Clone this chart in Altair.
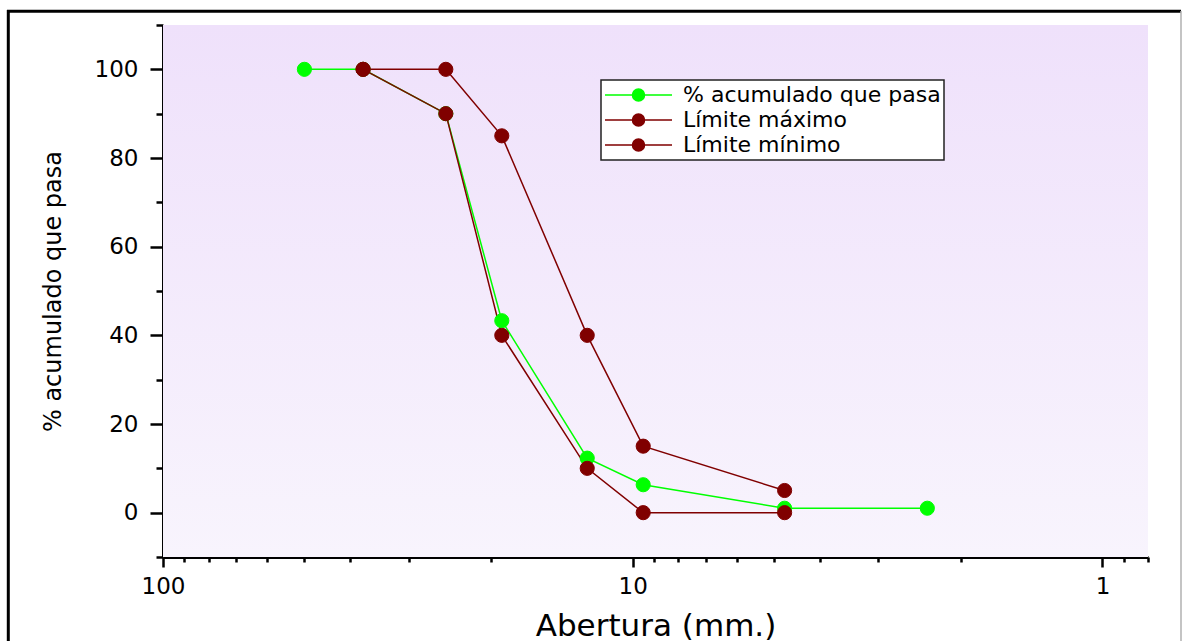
import altair as alt
import pandas as pd

# ---------------- data ----------------
sieve_sizes = [50, 37.5, 25, 19, 12.5, 9.5, 4.75, 2.36]
pct_pass = [100, 100, 90, 43.3, 12.3, 6.3, 1.0, 1.0]
limit_sizes = [37.5, 25, 19, 12.5, 9.5, 4.75]
limit_max = [100, 100, 85, 40, 15, 5]
limit_min = [100, 90, 40, 10, 0, 0]
series_names = ["% acumulado que pasa", "Límite máximo", "Límite mínimo"]
series_colors = ["#00ff00", "#800000", "#800000"]

x_ticks = [100, 90, 80, 70, 60, 50, 40, 30, 20, 10, 9, 8, 7, 6, 5, 4, 3, 2, 1, 0.9, 0.8]
x_major = [100, 10, 1]
y_ticks = [-10, 0, 10, 20, 30, 40, 50, 60, 70, 80, 90, 100, 110]
y_major = [0, 20, 40, 60, 80, 100]

rows = []
for name, xs, ys in zip(series_names,
                        [sieve_sizes, limit_sizes, limit_sizes],
                        [pct_pass, limit_max, limit_min]):
    for i, (a, b) in enumerate(zip(xs, ys)):
        rows.append({"serie": name, "abertura": a, "pasa": b, "orden": i})
df = pd.DataFrame(rows)

W, H = 985, 532
PAD_L, PAD_T, PAD_R, PAD_B = 163, 25, 34, 84
FONT = "DejaVu Sans"

x_major_test = f"indexof({x_major}, datum.value) >= 0"
y_major_test = f"indexof({y_major}, datum.value) >= 0"

x_axis = alt.Axis(
    values=x_ticks,
    labelExpr=f"{x_major_test} ? format(datum.value, '~g') : ''",
    tickSize={"condition": {"test": x_major_test, "value": 10}, "value": 5},
    labelPadding=8,
    labelFlush=False,
    labelOverlap=False,
    labelBound=False,
    grid=False,
    titleX=W / 2,
    titleY=78,
    titleAlign="center",
    titleBaseline="alphabetic",
    titleFontSize=31,
)
y_axis = alt.Axis(
    values=y_ticks,
    labelExpr=f"{y_major_test} ? datum.label : ''",
    tickSize={"condition": {"test": y_major_test, "value": 13}, "value": 7},
    labelPadding=12,
    labelFlush=False,
    labelOverlap=False,
    grid=False,
    titleX=-103,
    titleY=H / 2,
    titleAngle=270,
    titleAlign="center",
    titleBaseline="alphabetic",
    titleFontSize=24,
)

x_enc = alt.X("abertura:Q",
              scale=alt.Scale(type="log", domain=[0.8, 100], reverse=True, nice=False),
              axis=x_axis, title="Abertura (mm.)")
y_enc = alt.Y("pasa:Q",
              scale=alt.Scale(domain=[-10, 110], nice=False, zero=False),
              axis=y_axis, title="% acumulado que pasa")

sym_path = ("M-1,0H1M-0.18,0A0.18,0.18,0,1,0,0.18,0"
            "A0.18,0.18,0,1,0,-0.18,0Z")
legend = alt.Legend(
    title=None, orient="none", legendX=438, legendY=55,
    symbolType=sym_path, symbolSize=4489, symbolStrokeWidth=1.5,
    labelFont=FONT, labelFontSize=22, labelOffset=10, labelColor="black",
    labelLimit=500, padding=3, rowPadding=1, clipHeight=24,
    strokeColor="#222222", fillColor="white",
)
color_scale = alt.Scale(domain=series_names, range=series_colors)

# background gradient of the plot area
bg = alt.Chart(alt.Data(values=[{}])).mark_rect(
    fill=alt.Gradient(
        gradient="linear",
        stops=[alt.GradientStop(color="#efe1fb", offset=0),
               alt.GradientStop(color="#f8f4fd", offset=1)],
        x1=0, x2=0, y1=0, y2=1),
).encode(x=alt.value(0), x2=alt.value(W), y=alt.value(0), y2=alt.value(H))

# outer frame of the figure
frame_top = alt.Chart(alt.Data(values=[{}])).mark_rule(color="black", strokeWidth=3).encode(
    x=alt.value(7 - PAD_L), x2=alt.value(1181 - PAD_L), y=alt.value(11.3 - PAD_T))
frame_left = alt.Chart(alt.Data(values=[{}])).mark_rule(color="black", strokeWidth=3).encode(
    x=alt.value(8.3 - PAD_L), y=alt.value(10 - PAD_T), y2=alt.value(H + PAD_B + 5))
frame_right = alt.Chart(alt.Data(values=[{}])).mark_rule(color="#b0b0b0", strokeWidth=1.5).encode(
    x=alt.value(1181 - PAD_L), y=alt.value(11 - PAD_T), y2=alt.value(H + PAD_B + 5))

lines = alt.Chart(df).mark_line(strokeWidth=1.5).encode(
    x=x_enc, y=y_enc,
    stroke=alt.Stroke("serie:N", scale=color_scale, legend=legend),
    order="orden:Q",
)
points = alt.Chart(df).mark_circle(size=200, opacity=1, strokeWidth=1).encode(
    x=x_enc, y=y_enc,
    fill=alt.Fill("serie:N", scale=color_scale, legend=legend),
    stroke=alt.Stroke("serie:N", scale=color_scale, legend=legend),
)

chart = alt.layer(bg, frame_top, frame_left, frame_right, lines, points).properties(
    width=W, height=H,
    padding={"left": PAD_L, "top": PAD_T, "right": PAD_R, "bottom": PAD_B},
    autosize=alt.AutoSizeParams(type="none"),
    background="white",
).configure_view(stroke="transparent").configure_axis(
    domainColor="black", domainWidth=3, tickColor="black", tickWidth=2.5,
    labelFont=FONT, labelFontSize=23, labelColor="black",
    titleFont=FONT, titleColor="black", titleFontWeight="normal",
).configure_legend(strokeWidth=1.5)

chart.save("out.html", embed_options={"renderer": "svg", "actions": False})
